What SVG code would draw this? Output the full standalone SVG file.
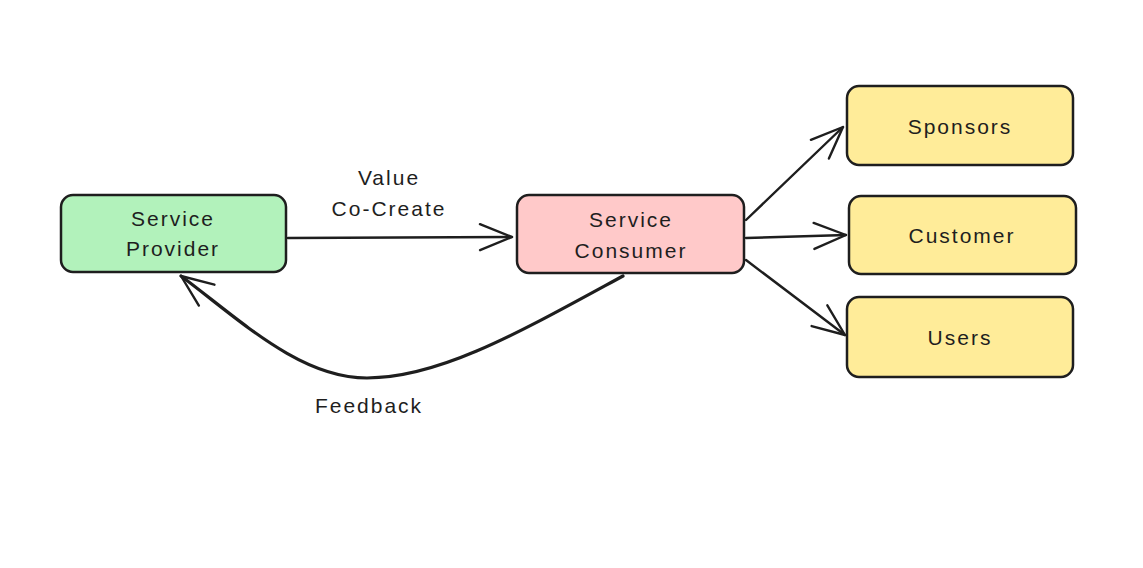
<svg xmlns="http://www.w3.org/2000/svg" width="1143" height="568" viewBox="0 0 1143 568">
<defs>
<style>
.box{stroke:#1e1e1e;stroke-width:2.5;}
.green{fill:#b2f2bb;}
.pink{fill:#ffc9c9;}
.yellow{fill:#ffec99;}
.lbl{font-family:"Liberation Sans",Arial,sans-serif;font-size:21px;fill:#1e1e1e;text-anchor:middle;dominant-baseline:central;letter-spacing:2px;}
.conn{fill:none;stroke:#1e1e1e;stroke-width:2.4;stroke-linecap:round;stroke-linejoin:round;}
</style>
<marker id="arr" markerUnits="userSpaceOnUse" markerWidth="44" markerHeight="44" viewBox="-38 -22 44 44" refX="0" refY="0" orient="auto">
<path d="M-32,-13 L0,0 L-32,13" fill="none" stroke="#1e1e1e" stroke-width="2.4" stroke-linecap="round" stroke-linejoin="round"/>
</marker>
</defs>
<rect width="1143" height="568" fill="#ffffff"/>
<g id="connectors">
<path class="conn" d="M288,238 L512,237" marker-end="url(#arr)"/>
<path class="conn" d="M746,220 L843,127" marker-end="url(#arr)"/>
<path class="conn" d="M746,238 L846,235" marker-end="url(#arr)"/>
<path class="conn" d="M746,260 L845,335" marker-end="url(#arr)"/>
<path class="conn" style="stroke-width:3.2" d="M623,276 C520,332 440,378 367,378 C300,378 240,320 181,276" marker-end="url(#arr)"/>
<text class="lbl" x="389" y="177">Value</text>
<text class="lbl" x="389" y="208">Co-Create</text>
<text class="lbl" x="369" y="405">Feedback</text>
</g>
<g id="service-provider">
<rect class="box green" x="61" y="195" width="225" height="77" rx="12"/>
<text class="lbl" x="173" y="218">Service</text>
<text class="lbl" x="173" y="248">Provider</text>
</g>
<g id="service-consumer">
<rect class="box pink" x="517" y="195" width="227" height="78" rx="12"/>
<text class="lbl" x="631" y="219">Service</text>
<text class="lbl" x="631" y="250">Consumer</text>
</g>
<g id="sponsors">
<rect class="box yellow" x="847" y="86" width="226" height="79" rx="12"/>
<text class="lbl" x="960" y="126">Sponsors</text>
</g>
<g id="customer">
<rect class="box yellow" x="849" y="196" width="227" height="78" rx="12"/>
<text class="lbl" x="962" y="235">Customer</text>
</g>
<g id="users">
<rect class="box yellow" x="847" y="297" width="226" height="80" rx="12"/>
<text class="lbl" x="960" y="337">Users</text>
</g>
</svg>
